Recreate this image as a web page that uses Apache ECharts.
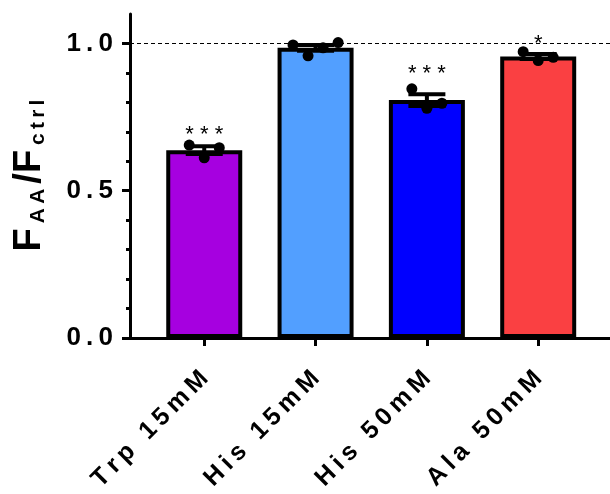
<!DOCTYPE html>
<html><head><meta charset="utf-8">
<script src="https://cdn.jsdelivr.net/npm/echarts@6/dist/echarts.min.js"></script>
<style>html,body{margin:0;padding:0;background:#fff}#c{width:610px;height:494px}</style>
</head><body><div id="c"></div>
<script>
// ---- data ----
const categories = ['Trp 15mM', 'His 15mM', 'His 50mM', 'Ala 50mM'];
const barColors = ['#A600E0', '#529FFF', '#0000FF', '#FA4042'];
const replicates = [
  [0.655, 0.612, 0.646],
  [0.995, 0.958, 0.985, 1.003],
  [0.846, 0.780, 0.797],
  [0.972, 0.942, 0.953]
];
const stars = ['***', '', '***', '*'];
const starLevels = [0.688, null, 0.898, 1.0];
const yTicks = [0, 0.5, 1.0];
const yMinorTicks = [0.1, 0.2, 0.3, 0.4, 0.6, 0.7, 0.8, 0.9];
const refLine = 1.0;

// ---- derived ----
const positions = categories.map((c, i) => i + 1);
const means = replicates.map(r => r.reduce((a, b) => a + b, 0) / r.length);
const sems = replicates.map((r, i) => {
  const m = means[i];
  const v = r.reduce((a, b) => a + (b - m) * (b - m), 0) / (r.length - 1);
  return Math.sqrt(v / r.length);
});
const spaced = s => String(s).split('').join('\u2009');
const FONT = 'Liberation Sans, Arial, sans-serif';
const JITTER = 0.135;

const barData = means.map((m, i) => ({
  value: [positions[i], m],
  itemStyle: { color: barColors[i] }
}));
const errData = means.map((m, i) => [positions[i], m - sems[i], m + sems[i]]);
const dotData = [];
replicates.forEach((r, i) => {
  r.forEach((v, j) => dotData.push([positions[i] + (j - (r.length - 1) / 2) * JITTER, v]));
});
const starData = [];
stars.forEach((s, i) => { if (s) starData.push({ value: [positions[i], starLevels[i]], label: { formatter: s.split('').join(' ') } }); });

const chart = echarts.init(document.getElementById('c'), null, { renderer: 'canvas' });
chart.setOption({
  animation: false,
  backgroundColor: '#fff',
  grid: { left: 130, right: 0, top: 14, bottom: 156, containLabel: false, outerBoundsMode: 'none' },
  xAxis: {
    type: 'value', min: 0.333, max: 4.645,
    splitLine: { show: false },
    axisLine: { show: true, onZero: false, lineStyle: { color: '#000', width: 3 } },
    axisTick: { show: true, customValues: positions, length: 8, lineStyle: { color: '#000', width: 3 } },
    axisLabel: {
      customValues: positions, rotate: 45, margin: 37,
      formatter: v => spaced(categories[Math.round(v) - 1]),
      color: '#000', fontFamily: FONT, fontWeight: 'bold', fontSize: 25
    }
  },
  yAxis: [{
    type: 'value', min: 0, max: 1.1, position: 'left',
    splitLine: { show: false },
    axisLine: { show: true, lineStyle: { color: '#000', width: 3 } },
    axisTick: { show: true, customValues: yTicks, length: 8, lineStyle: { color: '#000', width: 3 } },
    axisLabel: {
      customValues: yTicks, margin: 17,
      formatter: v => spaced(v.toFixed(1)),
      color: '#000', fontFamily: FONT, fontWeight: 'bold', fontSize: 26
    },
    name: '{a|F}{b|' + spaced('AA') + '}{a|/F}{b|' + spaced('ctrl') + '}',
    nameLocation: 'middle', nameRotate: 90, nameGap: 81,
    nameTextStyle: {
      color: '#000', fontFamily: FONT, fontWeight: 'bold',
      rich: {
        a: { fontSize: 38, fontWeight: 'bold', fontFamily: FONT, color: '#000', verticalAlign: 'bottom', padding: [0, 3, 0, 3] },
        b: { fontSize: 21, fontWeight: 'bold', fontFamily: FONT, color: '#000', verticalAlign: 'bottom', padding: [0, 2, 0, 2] }
      }
    }
  }, {
    type: 'value', min: 0, max: 1.1, position: 'left',
    splitLine: { show: false },
    axisLine: { show: false },
    axisTick: { show: true, customValues: yMinorTicks, length: 4, lineStyle: { color: '#000', width: 3 } },
    axisLabel: { show: false }
  }],
  series: [{
    type: 'bar', data: barData, barWidth: 76,
    itemStyle: { borderColor: '#000', borderWidth: 4 },
    markLine: {
      silent: true, symbol: 'none', label: { show: false },
      lineStyle: { color: '#000', width: 1, type: [4, 3] },
      data: [{ yAxis: refLine }]
    },
    z: 2
  }, {
    type: 'custom', data: errData, z: 3,
    renderItem: (params, api) => {
      const x = api.value(0);
      const lo = api.coord([x, api.value(1)]);
      const hi = api.coord([x, api.value(2)]);
      const half = 18.5;
      const st = { stroke: '#000', lineWidth: 4 };
      return { type: 'group', children: [
        { type: 'line', shape: { x1: lo[0], y1: lo[1], x2: hi[0], y2: hi[1] }, style: st },
        { type: 'line', shape: { x1: hi[0] - half, y1: hi[1], x2: hi[0] + half, y2: hi[1] }, style: st },
        { type: 'line', shape: { x1: lo[0] - half, y1: lo[1], x2: lo[0] + half, y2: lo[1] }, style: st }
      ]};
    }
  }, {
    type: 'scatter', data: dotData, symbolSize: 11, z: 4,
    itemStyle: { color: '#000', opacity: 1 }
  }, {
    type: 'scatter', data: starData, symbolSize: 0, z: 5,
    label: { show: true, position: 'inside', color: '#000', fontFamily: FONT, fontSize: 22, opacity: 1 }
  }]
});
</script></body></html>
